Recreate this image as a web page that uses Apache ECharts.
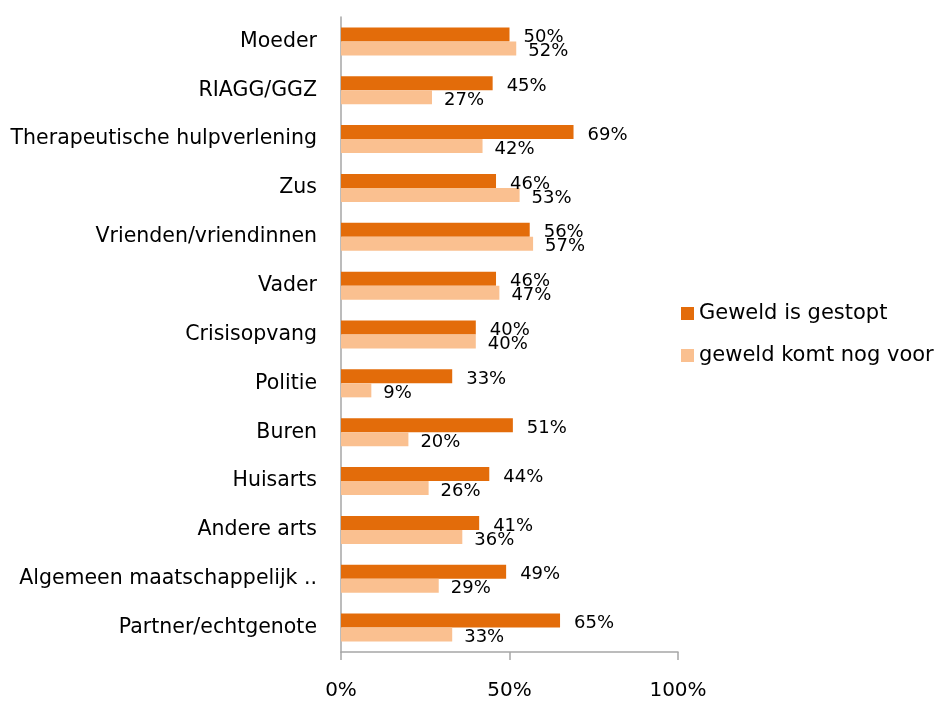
<!DOCTYPE html>
<html>
<head>
<meta charset="utf-8">
<script src="https://cdn.jsdelivr.net/npm/echarts@6/dist/echarts.min.js"></script>
<style>
  html, body { margin: 0; padding: 0; background: #fff; }
  #main { width: 937px; height: 702px; }
</style>
</head>
<body>
<div id="main"></div>
<script>
  // categories from top to bottom
  var categories = ['Moeder', 'RIAGG/GGZ', 'Therapeutische hulpverlening', 'Zus', 'Vrienden/vriendinnen',
    'Vader', 'Crisisopvang', 'Politie', 'Buren', 'Huisarts', 'Andere arts',
    'Algemeen maatschappelijk ..', 'Partner/echtgenote'];
  var gestopt = [50, 45, 69, 46, 56, 46, 40, 33, 51, 44, 41, 49, 65];
  var nogVoor = [52, 27, 42, 53, 57, 47, 40, 9, 20, 26, 36, 29, 33];
  var xTicks = [0, 50, 100];

  var font = 'DejaVu Sans';

  var option = {
    animation: false,
    textStyle: { fontFamily: font },
    grid: {
      left: 341,
      top: 17,
      width: 337,
      height: 635
    },
    legend: {
      orient: 'vertical',
      left: 676,
      top: 298,
      itemWidth: 13,
      itemHeight: 13,
      itemGap: 21,
      icon: 'rect',
      textStyle: { fontSize: 21, color: '#000', fontFamily: font },
      data: ['Geweld is gestopt', 'geweld komt nog voor']
    },
    xAxis: {
      type: 'value',
      min: xTicks[0],
      max: xTicks[2],
      interval: 50,
      splitLine: { show: false },
      axisLine: { show: true, lineStyle: { color: '#a6a6a6', width: 1.5 } },
      axisTick: { show: true, length: 8, lineStyle: { color: '#a6a6a6', width: 1.5 } },
      axisLabel: {
        margin: 29,
        fontSize: 20,
        color: '#000',
        formatter: '{value}%'
      }
    },
    yAxis: {
      type: 'category',
      inverse: true,
      data: categories,
      axisLine: { show: true, lineStyle: { color: '#a6a6a6', width: 1.5 } },
      axisTick: { show: false },
      axisLabel: { margin: 24, fontSize: 20.5, color: '#000' }
    },
    series: [
      {
        name: 'Geweld is gestopt',
        type: 'bar',
        data: gestopt,
        barWidth: 14,
        barGap: '0%',
        itemStyle: { color: '#E36C0A' },
        label: {
          show: true,
          position: 'right',
          distance: 14,
          offset: [0, 3],
          formatter: '{c}%',
          fontSize: 18,
          color: '#000'
        }
      },
      {
        name: 'geweld komt nog voor',
        type: 'bar',
        data: nogVoor,
        barWidth: 14,
        barGap: '0%',
        itemStyle: { color: '#FAC090' },
        label: {
          show: true,
          position: 'right',
          distance: 12,
          offset: [0, 3],
          formatter: '{c}%',
          fontSize: 18,
          color: '#000'
        }
      }
    ]
  };

  var myChart = echarts.init(document.getElementById('main'));
  myChart.setOption(option);
</script>
</body>
</html>
